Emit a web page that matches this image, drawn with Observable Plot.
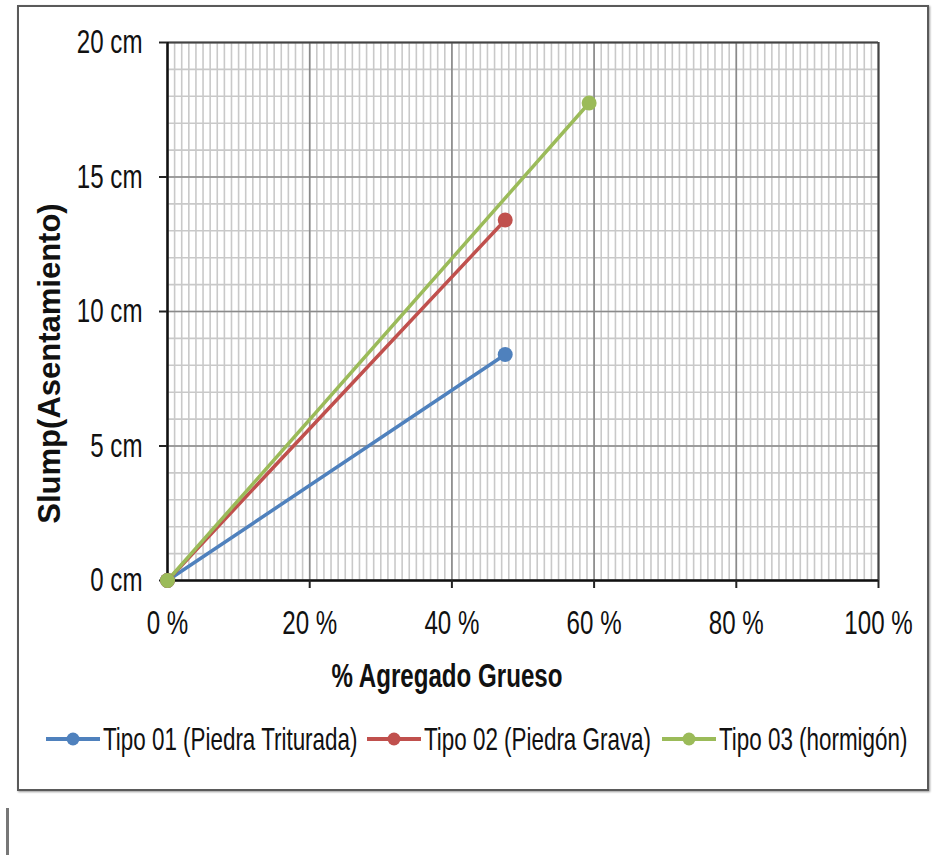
<!DOCTYPE html>
<html>
<head>
<meta charset="utf-8">
<script src="https://cdn.jsdelivr.net/npm/d3@7"></script>
<script src="https://cdn.jsdelivr.net/npm/@observablehq/plot@0.6"></script>
<style>
  html, body { margin: 0; padding: 0; background: #fff; width: 946px; height: 855px; overflow: hidden; }
  body { position: relative; font-family: "Liberation Sans", Arial, sans-serif; }
  #frame { position: absolute; left: 17px; top: 5px; width: 908px; height: 782px; border: 2px solid #5a5a5a; box-shadow: 1px 1px 2px #999; }
  #chart { position: absolute; left: 0; top: 0; }
  #legend { position: absolute; left: 0; width: 946px; top: 719px; height: 40px; display: flex; justify-content: center; align-items: center; gap: 10px; font-size: 32px; color: #111; padding-left: 7px; box-sizing: border-box; }
  .item { display: flex; align-items: center; gap: 3px; }
  .item span { display: inline-block; transform: scaleX(0.7); transform-origin: left center; white-space: nowrap; }
  #leftbar { position: absolute; left: 6px; top: 808px; width: 3px; height: 47px; background: #777; }
</style>
</head>
<body>
<div id="frame"></div>
<div id="chart"></div>
<div id="legend"></div>
<div id="leftbar"></div>
<script>
const tipos = ["Tipo 01 (Piedra Triturada)", "Tipo 02 (Piedra Grava)", "Tipo 03 (hormigón)"];
const colors = ["#4F81BD", "#C0504D", "#9BBB59"];
const agregado = [[0, 47.5], [0, 47.5], [0, 59.3]];   // % Agregado Grueso
const slump = [[0, 8.4], [0, 13.4], [0, 17.75]];       // cm
const xTicks = [0, 20, 40, 60, 80, 100];
const yTicks = [0, 5, 10, 15, 20];
const xMinor = d3.range(0, 101, 1);
const yMinor = d3.range(0, 21, 1);
const xTitle = "% Agregado Grueso";
const yTitle = "Slump(Asentamiento)";

const rows = tipos.flatMap((t, i) => agregado[i].map((x, j) => ({tipo: t, x, y: slump[i][j]})));

const font = '"Liberation Sans", Arial, sans-serif';

const chart = Plot.plot({
  width: 946,
  height: 700,
  marginLeft: 167,
  marginRight: 68,
  marginTop: 42,
  marginBottom: 120,
  style: {fontFamily: font, fontSize: "34px", color: "#111", background: "transparent"},
  x: {domain: [0, 100]},
  y: {domain: [0, 20]},
  color: {domain: tipos, range: colors},
  marks: [
    Plot.gridX(xMinor, {stroke: "#c9c9c9", strokeOpacity: 1, strokeWidth: 1.6}),
    Plot.gridY(yMinor, {stroke: "#c9c9c9", strokeOpacity: 1, strokeWidth: 1.6}),
    Plot.gridX(xTicks, {stroke: "#8a8a8a", strokeOpacity: 1, strokeWidth: 1.6}),
    Plot.gridY(yTicks, {stroke: "#8a8a8a", strokeOpacity: 1, strokeWidth: 1.6}),
    Plot.ruleY([20], {stroke: "#444", strokeWidth: 2}),
    Plot.ruleX([100], {stroke: "#444", strokeWidth: 2}),
    Plot.ruleX([0], {stroke: "#111", strokeWidth: 2.5}),
    Plot.ruleY([0], {stroke: "#111", strokeWidth: 2.5}),
    Plot.axisX(xTicks, {tickFormat: d => d + " %", tickSize: 8, tickPadding: 21, stroke: "#222", strokeWidth: 2, label: null, fontSize: 34}),
    Plot.axisY(yTicks, {tickFormat: d => d + " cm", tickSize: 8, tickPadding: 17, stroke: "#222", strokeWidth: 2, label: null, fontSize: 34}),
    Plot.line(rows, {x: "x", y: "y", z: "tipo", stroke: "tipo", strokeWidth: 3.5}),
    Plot.dot(rows, {x: "x", y: "y", fill: "tipo", r: 7.5}),
    Plot.text([xTitle], {text: d => d, frameAnchor: "bottom", dy: 106, dx: -76, fontWeight: "bold", fontSize: 34, fill: "#111"}),
    Plot.text([yTitle], {text: d => d, frameAnchor: "left", textAnchor: "middle", dx: -117, dy: 52, rotate: -90, fontWeight: "bold", fontSize: 31, fill: "#111"})
  ]
});
document.getElementById("chart").appendChild(chart);

// condensed look (the reference uses a narrow typeface)
function narrow(el, s) {
  const b = el.getBBox();
  const anchor = getComputedStyle(el).getPropertyValue("text-anchor");
  const cx = anchor === "end" ? b.x + b.width : anchor === "middle" ? b.x + b.width / 2 : b.x;
  const t = el.getAttribute("transform") || "";
  el.setAttribute("transform", `${t} translate(${cx},0) scale(${s},1) translate(${-cx},0)`);
}
chart.querySelectorAll("text").forEach(el => {
  if (el.textContent === yTitle) return;
  narrow(el, 0.71);
});

const legend = document.getElementById("legend");
tipos.forEach((t, i) => {
  const item = document.createElement("div");
  item.className = "item";
  item.innerHTML = `<svg width="54" height="20"><line x1="0" x2="54" y1="10" y2="10" stroke="${colors[i]}" stroke-width="4"/><circle cx="27" cy="10" r="6.5" fill="${colors[i]}"/></svg><span>${t}</span>`;
  legend.appendChild(item);
});
legend.querySelectorAll("span").forEach(sp => {
  const w = sp.offsetWidth;
  sp.style.marginRight = (-w * 0.3) + "px";
});
</script>
</body>
</html>
